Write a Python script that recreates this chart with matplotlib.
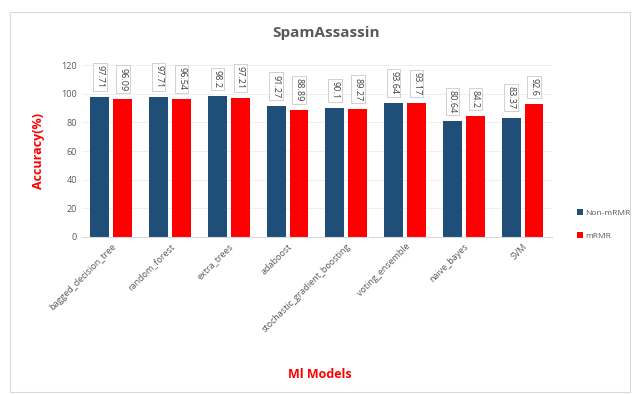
import matplotlib.pyplot as plt
import numpy as np
from matplotlib.patches import Rectangle

models = ['bagged_decision_tree', 'random_forest', 'extra_trees', 'adaboost',
          'stochastic_gradient_boosting', 'voting_ensemble', 'naive_bayes', 'SVM']
non_mrmr = [97.71, 97.71, 98.2, 91.27, 90.1, 93.64, 80.64, 83.37]
mrmr = [96.09, 96.54, 97.21, 88.89, 89.27, 93.17, 84.20, 92.6]

plt.rcParams['font.family'] = ['Open Sans', 'DejaVu Sans']

fig = plt.figure(figsize=(6.33, 3.94), dpi=100)
# light frame around the chart area
fig.patches.append(Rectangle((0.016, 0.005), 0.979, 0.965, transform=fig.transFigure,
                             fill=False, edgecolor='#d9d9d9', linewidth=0.8))

ax = fig.add_axes([0.1295, 0.3985, 0.7425, 0.4365])
x = np.arange(len(models))
w = 0.32
b1 = ax.bar(x - w / 2 - 0.035, non_mrmr, w, color='#1f4e79', label='Non-mRMR')
b2 = ax.bar(x + w / 2 + 0.035, mrmr, w, color='#ff0000', label='mRMR')

box = dict(boxstyle='square,pad=0.25', facecolor='white', edgecolor='#bfbfbf', linewidth=0.5)
for bars, vals in ((b1, non_mrmr), (b2, mrmr)):
    for r, v in zip(bars, vals):
        ax.annotate(f'{v:g}', (r.get_x() + r.get_width() / 2, v), xytext=(0, 6),
                    textcoords='offset points', rotation=270, ha='center', va='bottom',
                    fontsize=6.5, color='#404040', bbox=box)

ax.set_xlim(-0.5, len(models) - 0.5)
ax.set_ylim(0, 120)
ax.set_yticks(range(0, 121, 20))
ax.yaxis.grid(True, color='#ececec', linewidth=0.6)
ax.set_axisbelow(True)
for s in ['top', 'right', 'left']:
    ax.spines[s].set_visible(False)
ax.spines['bottom'].set_color('#d9d9d9')
ax.tick_params(axis='both', length=0, labelsize=6.5, colors='#595959')
ax.set_xticks(x)
ax.set_xticklabels(models, rotation=45, ha='right', rotation_mode='anchor')

ax.set_ylabel('Accuracy(%)', color='#ff0000', fontweight='bold', fontsize=9, labelpad=12)
fig.text(0.505, 0.04, 'Ml Models', color='#ff0000', fontweight='bold', fontsize=9, ha='center')
fig.text(0.515, 0.905, 'SpamAssassin', color='#595959', fontweight='bold', fontsize=11, ha='center')

fig.legend(handles=[b1, b2], loc='center left', bbox_to_anchor=(0.9, 0.43), frameon=False,
           fontsize=6, handlelength=0.7, handleheight=0.7, handletextpad=0.3,
           labelspacing=1.8, labelcolor='#595959')

fig.savefig('out.png', dpi=100)
